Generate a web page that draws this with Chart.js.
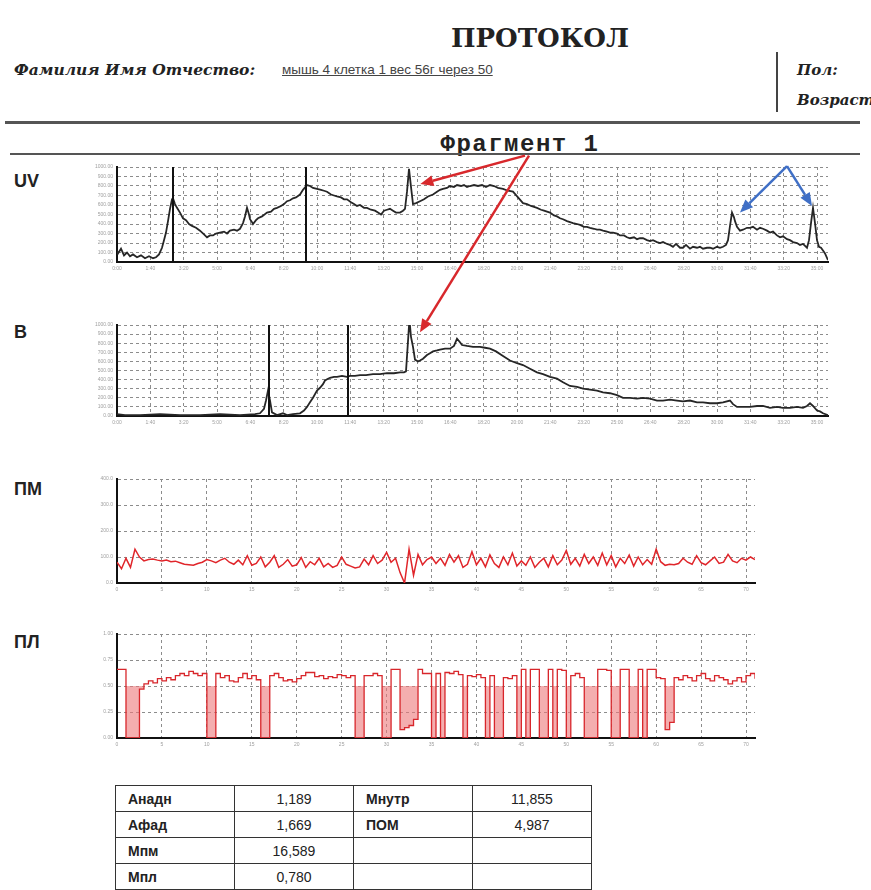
<!DOCTYPE html>
<html>
<head>
<meta charset="utf-8">
<script src="https://cdn.jsdelivr.net/npm/chart.js@4.4.1/dist/chart.umd.min.js"></script>
<style>
  body { margin: 0; background: #fff; }
  #page { position: relative; width: 871px; height: 890px; overflow: hidden; background: #fff; }
  .abs { position: absolute; white-space: nowrap; line-height: 1; }
  .serif { font-family: 'DejaVu Serif', serif; font-weight: bold; font-style: italic; font-size: 15px; color: #222; }
  .lbl { font-family: 'Liberation Sans', Arial, sans-serif; font-weight: bold; font-size: 18px; color: #222; left: 14px; }
  canvas.plot { position: absolute; }
  #overlay { position: absolute; left: 0; top: 0; pointer-events: none; }
  #params { position: absolute; left: 115px; top: 785px; border-collapse: collapse;
            font-family: 'Liberation Sans', Arial, sans-serif; font-size: 14px; color: #222; }
  #params td { border: 1px solid #333; width: 118px; height: 25px; padding: 0; }
  #params td.k { font-weight: bold; padding-left: 12px; width: 106px; }
  #params td.v { text-align: center; }
</style>
</head>
<body>
<div id="page">
  <div class="abs" style="left:440px;width:200px;top:23px;text-align:center;font:bold 26px 'DejaVu Serif',serif;color:#222;">ПРОТОКОЛ</div>
  <div class="abs serif" style="left:14px;top:62px;font-size:15.5px;">Фамилия Имя Отчество:</div>
  <div class="abs" style="left:282px;top:62px;font:13.5px 'Liberation Sans',Arial,sans-serif;color:#444;text-decoration:underline;">мышь 4 клетка 1 вес 56г через 50</div>
  <div class="abs" style="left:776px;top:52px;width:2px;height:60px;background:#444;"></div>
  <div class="abs serif" style="left:797px;top:63px;">Пол:</div>
  <div class="abs serif" style="left:797px;top:93px;">Возраст</div>
  <div class="abs" style="left:5px;top:121px;width:855px;height:3px;background:#555;"></div>
  <div class="abs" style="left:400px;width:240px;top:131px;text-align:center;font:bold 24px 'Liberation Mono',monospace;letter-spacing:1.5px;color:#222;">Фрагмент 1</div>
  <div class="abs" style="left:10px;top:153px;width:850px;height:2px;background:#555;"></div>

  <div class="abs lbl" style="top:172px;">UV</div>
  <div class="abs lbl" style="top:323px;">B</div>
  <div class="abs lbl" style="top:480px;">ПМ</div>
  <div class="abs lbl" style="top:633px;">ПЛ</div>

  <canvas class="plot" id="uvChart" width="761" height="116" style="left:77px;top:160px;"></canvas>
  <canvas class="plot" id="bChart" width="761" height="112" style="left:77px;top:318px;"></canvas>
  <canvas class="plot" id="pmChart" width="688" height="125" style="left:77px;top:472px;"></canvas>
  <canvas class="plot" id="plChart" width="688" height="125" style="left:77px;top:627px;"></canvas>

  <table id="params"></table>
  <canvas id="overlay" width="871" height="890"></canvas>
</div>

<script>
// UV: время (с) и уровень (% шкалы)
const uvTime = [
  0,3,12,21,30,39,48,60,72,84,96,108,117,126,135,
  141,147,153,159,165,168,174,180,189,198,207,216,225,237,249,
  261,270,279,288,297,309,321,330,339,351,360,369,378,384,390,
  396,399,405,408,417,423,435,450,462,471,480,492,501,510,519,
  528,537,549,558,570,579,588,600,612,621,630,642,651,660,672,
  681,690,702,711,720,729,741,750,762,774,783,792,801,810,819,
  828,837,849,858,864,870,876,882,888,897,909,921,933,948,960,
  969,978,990,999,1011,1020,1032,1041,1050,1059,1071,1083,1095,1107,1119,
  1131,1143,1158,1173,1188,1203,1218,1230,1242,1251,1260,1272,1281,1290,1299,
  1311,1320,1329,1338,1350,1359,1368,1380,1389,1401,1410,1419,1431,1440,1449,
  1458,1470,1479,1488,1500,1509,1521,1530,1539,1551,1560,1569,1578,1590,1599,
  1608,1620,1629,1638,1650,1659,1668,1677,1689,1698,1707,1719,1728,1740,1749,
  1758,1770,1779,1788,1800,1809,1818,1827,1833,1839,1845,1851,1854,1860,1869,
  1878,1890,1899,1908,1920,1929,1938,1950,1959,1968,1980,1989,1998,2010,2019,
  2028,2040,2049,2058,2070,2076,2082,2088,2094,2100,2106,2112,2118,2124,2133
];
const uvLevel = [
  12,9,14,7,10,6,8,5,7,4,6,4,5,8,15,
  23,31,43,56,66,67,61,57,52,46,44,40,38,36,33,
  29,26,28,28,30,31,32,30,33,34,33,35,41,48,57,
  50,45,42,40,44,46,48,52,53,56,57,59,61,64,65,
  67,68,71,76,81,80,78,77,76,75,74,71,70,69,68,
  66,66,63,61,59,60,57,57,55,54,52,50,54,55,56,
  54,52,52,54,56,74,98,79,61,62,64,66,69,71,74,
  76,77,78,80,79,81,80,81,79,80,81,80,81,79,81,
  80,78,77,75,74,68,62,61,59,58,57,55,54,53,52,
  49,48,46,45,43,42,41,40,39,37,37,36,35,34,34,
  33,32,31,31,30,28,28,26,25,26,24,25,25,23,22,
  23,21,20,21,19,18,16,19,15,15,18,14,16,15,16,
  14,15,15,14,16,15,16,18,23,38,52,47,43,37,33,
  34,36,36,37,34,36,35,33,31,32,28,26,27,24,23,
  21,20,18,19,15,23,41,57,41,23,16,15,12,9,2
];
const uvMarks = [168, 567];

// B
const bTime = [
  0,24,69,129,189,249,309,369,414,429,441,447,453,459,465,
  480,498,510,528,549,561,570,579,588,600,609,618,624,633,639,
  651,660,675,690,699,714,729,747,768,789,810,831,849,861,867,
  873,876,879,882,888,894,903,909,918,930,939,948,960,969,984,
  999,1011,1020,1029,1035,1050,1068,1089,1104,1119,1137,1158,1179,1200,1218,
  1239,1260,1278,1299,1320,1338,1359,1380,1398,1419,1440,1458,1479,1500,1518,
  1539,1560,1578,1599,1620,1638,1659,1680,1698,1719,1740,1758,1779,1800,1818,
  1839,1848,1860,1878,1899,1920,1938,1959,1980,1998,2019,2040,2058,2070,2079,
  2088,2100,2109,2118,2133
];
const bLevel = [
  2,1,1,2,1,1,2,1,2,3,8,17,28,17,4,
  1,3,1,2,3,6,10,15,20,28,31,35,39,41,42,
  43,43,44,43,44,44,45,45,46,46,47,47,48,48,49,
  82,99,99,87,76,62,60,61,63,67,69,71,72,73,74,
  74,77,85,81,78,77,76,76,75,74,71,66,61,58,56,
  52,48,46,43,41,37,33,32,30,29,28,26,25,23,20,
  20,19,20,19,17,17,18,17,16,17,15,15,14,14,15,
  17,13,10,10,10,11,11,9,10,9,9,10,9,11,14,
  11,6,5,3,1
];
const bMarks = [456, 693];

// ПМ и ПЛ: отсчёты через каждые 5 единиц времени
const sampleStep = 5;
const pmLevel = [
  80,55,95,60,130,100,85,90,92,88,
  85,88,82,84,78,72,70,68,75,80,
  90,85,78,88,95,80,72,88,70,105,
  68,75,100,62,80,105,60,72,90,65,
  70,98,60,82,70,95,62,75,60,68,
  100,72,65,58,62,92,70,105,75,88,
  118,80,95,40,0,130,30,110,70,90,
  100,75,95,68,110,80,105,60,72,120,
  70,95,62,108,75,60,100,70,115,65,
  85,68,100,60,80,95,62,105,70,88,
  125,72,95,65,110,75,100,68,115,70,
  105,62,95,75,108,65,100,70,90,72,
  130,82,68,72,70,75,95,80,72,105,
  78,70,85,100,75,80,110,85,78,95,
  88,100,90
];
const plLevel = [
  0.66,0.66,0,0,0,0.47,
  0.52,0.55,0.53,0.57,0.55,0.58,0.56,0.6,0.62,0.6,0.64,0.62,0.6,0.62,
  0,0,
  0.62,0.58,0.6,0.55,0.54,0.58,0.62,0.57,0.6,0.56,
  0,0,
  0.6,0.62,0.58,0.55,0.56,0.54,0.57,0.6,0.63,0.63,0.59,0.6,0.57,0.59,0.58,0.61,0.6,0.58,0.6,
  0,0,0.6,0.6,0.62,0.6,0,0,0.66,0.66,
  0.08,0.1,0.12,0.18,0.66,0.62,0.62,0,0.62,0,
  0.63,0.62,0.64,0.61,0,0.6,0.59,0.61,0.58,
  0,0.6,0,0,0.58,0.57,0.6,
  0,0.66,0,0.66,0.66,0,0,0.66,0,0.66,0.65,0,
  0.6,0.62,0.58,0,0,0,0.66,0.66,0.65,0,0,0.66,0.66,0,0,0.66,0,0.66,0.66,
  0.58,0.57,0.08,0.15,0.58,
  0.56,0.6,0.58,0.55,0.6,0.62,0.57,0.55,0.6,0.58,0.56,0.52,0.55,0.58,0.54,0.6,0.62,0.57
];

// таблица показателей
const paramNames = ['Анадн', 'Афад', 'Мпм', 'Мпл'];
const paramValues = ['1,189', '1,669', '16,589', '0,780'];
const paramNames2 = ['Мнутр', 'ПОМ', '', ''];
const paramValues2 = ['11,855', '4,987', '', ''];

// вертикальные метки фрагмента
const markPlugin = {
  id: 'marks',
  afterDatasetsDraw(chart, args, opts) {
    const { ctx, chartArea, scales } = chart;
    ctx.save();
    ctx.strokeStyle = '#111';
    ctx.lineWidth = 2;
    (opts.values || []).forEach(v => {
      const px = Math.round(scales.x.getPixelForValue(v));
      ctx.beginPath();
      ctx.moveTo(px, chartArea.top);
      ctx.lineTo(px, chartArea.bottom);
      ctx.stroke();
    });
    ctx.restore();
  }
};

function mmss(v) {
  const m = Math.floor(v / 60), s = Math.round(v % 60);
  return m + ':' + (s < 10 ? '0' : '') + s;
}

function axis(max, step, fmt, fit) {
  return {
    type: 'linear', min: 0, max: max,
    afterFit: fit,
    grid: { color: '#8c8c8c', lineWidth: 1, drawTicks: false },
    border: { color: '#111', width: 2, dash: [3, 3] },
    ticks: {
      stepSize: step, includeBounds: false, autoSkip: false, maxRotation: 0,
      padding: 4, color: '#a0a0a0', font: { size: 5, family: 'Arial' },
      callback: fmt
    }
  };
}

function makeChart(id, dataset, cfg) {
  return new Chart(document.getElementById(id), {
    type: 'line',
    data: { datasets: [dataset] },
    options: {
      responsive: false,
      animation: false,
      layout: { padding: { top: 5, right: 10, left: 0, bottom: 0 } },
      plugins: { legend: { display: false }, tooltip: { enabled: false }, marks: { values: cfg.marks || [] } },
      scales: {
        x: axis(cfg.xMax, cfg.xStep, cfg.xFmt, s => { s.height = 14; }),
        y: axis(cfg.yMax, cfg.yStep, cfg.yFmt, s => { s.width = 40; })
      }
    },
    plugins: [markPlugin]
  });
}

const uvChart = makeChart('uvChart', {
  data: uvTime.map((t, i) => ({ x: t, y: uvLevel[i] })),
  borderColor: '#262626', borderWidth: 1.8, pointRadius: 0, fill: false
}, { xMax: 2133, xStep: 100, yMax: 100, yStep: 10, marks: uvMarks,
     xFmt: v => mmss(v), yFmt: v => (v * 10).toFixed(2) });

const bChart = makeChart('bChart', {
  data: bTime.map((t, i) => ({ x: t, y: bLevel[i] })),
  borderColor: '#262626', borderWidth: 1.8, pointRadius: 0, fill: false
}, { xMax: 2133, xStep: 100, yMax: 100, yStep: 10, marks: bMarks,
     xFmt: v => mmss(v), yFmt: v => (v * 10).toFixed(2) });

const pmChart = makeChart('pmChart', {
  data: pmLevel.map((v, i) => ({ x: i * sampleStep, y: v })),
  borderColor: '#e0252a', borderWidth: 1.5, pointRadius: 0, fill: false
}, { xMax: 710, xStep: 50, yMax: 400, yStep: 100,
     xFmt: v => (v / 10).toFixed(0), yFmt: v => v.toFixed(1) });

const plChart = makeChart('plChart', {
  data: plLevel.map((v, i) => ({ x: i * sampleStep, y: v })),
  borderColor: '#d8262b', borderWidth: 1.3, pointRadius: 0, stepped: true,
  fill: { target: { value: 0.5 }, above: 'rgba(0,0,0,0)', below: 'rgba(236,120,122,0.6)' }
}, { xMax: 710, xStep: 50, yMax: 1, yStep: 0.25,
     xFmt: v => (v / 10).toFixed(0), yFmt: v => v.toFixed(2) });

// таблица
const table = document.getElementById('params');
paramNames.forEach((n, i) => {
  const tr = document.createElement('tr');
  [[n, 'k'], [paramValues[i], 'v'], [paramNames2[i], 'k'], [paramValues2[i], 'v']].forEach(([t, c]) => {
    const td = document.createElement('td');
    td.className = c;
    td.textContent = t;
    tr.appendChild(td);
  });
  table.appendChild(tr);
});

// стрелки-пометки поверх графиков
function pagePoint(chart, x, y) {
  const c = chart.canvas;
  return [c.offsetLeft + chart.scales.x.getPixelForValue(x), c.offsetTop + chart.scales.y.getPixelForValue(y)];
}
function arrow(ctx, from, to, color) {
  const ang = Math.atan2(to[1] - from[1], to[0] - from[0]);
  const head = 13, half = 5.5;
  const bx = to[0] - head * Math.cos(ang), by = to[1] - head * Math.sin(ang);
  ctx.strokeStyle = color;
  ctx.fillStyle = color;
  ctx.lineWidth = 2.5;
  ctx.beginPath();
  ctx.moveTo(from[0], from[1]);
  ctx.lineTo(bx, by);
  ctx.stroke();
  ctx.beginPath();
  ctx.moveTo(to[0], to[1]);
  ctx.lineTo(bx + half * Math.sin(ang), by - half * Math.cos(ang));
  ctx.lineTo(bx - half * Math.sin(ang), by + half * Math.cos(ang));
  ctx.closePath();
  ctx.fill();
}
const octx = document.getElementById('overlay').getContext('2d');
arrow(octx, pagePoint(uvChart, 1224, 112), pagePoint(uvChart, 910, 82), '#d8282c');
arrow(octx, pagePoint(uvChart, 1236, 112), pagePoint(bChart, 909, 92), '#d8282c');
arrow(octx, pagePoint(uvChart, 2010, 101), pagePoint(uvChart, 1869, 52), '#3f6fc6');
arrow(octx, pagePoint(uvChart, 2010, 101), pagePoint(uvChart, 2085, 59), '#3f6fc6');
</script>
</body>
</html>
